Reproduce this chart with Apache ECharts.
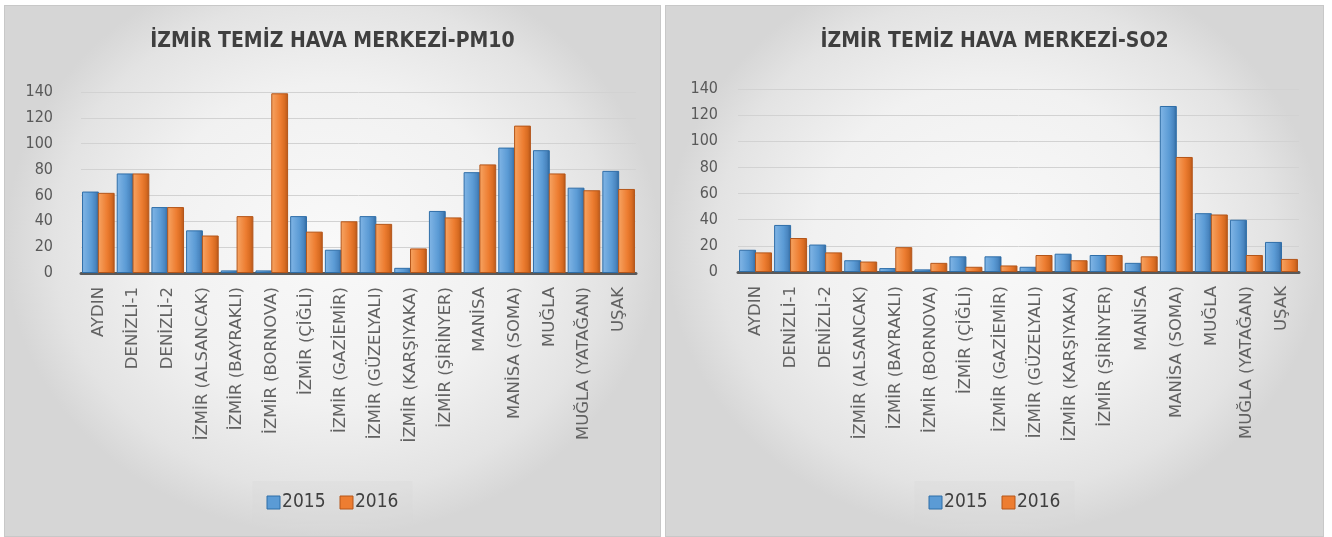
<!DOCTYPE html>
<html><head><meta charset="utf-8">
<script src="https://cdn.jsdelivr.net/npm/echarts@6/dist/echarts.min.js"></script>
<style>
html,body{margin:0;padding:0;background:#fff;width:1332px;height:537px;overflow:hidden;}
.panel{position:absolute;top:5px;height:532px;box-sizing:border-box;border:1px solid #c8c8c8;
background:radial-gradient(ellipse farthest-side at 50% 45%, #f9f9f9 0%, #f1f1f1 55%, #e3e3e3 85%, #d6d6d6 100%);}
#c1{left:4px;width:657px;}
#c2{left:665px;width:659px;}
</style></head><body>
<div id="c1" class="panel"></div><div id="c2" class="panel"></div>
<script>
const categories = ['AYDIN','DENİZLİ-1','DENİZLİ-2','İZMİR (ALSANCAK)','İZMİR (BAYRAKLI)','İZMİR (BORNOVA)','İZMİR (ÇİĞLİ)','İZMİR (GAZİEMİR)','İZMİR (GÜZELYALI)','İZMİR (KARŞIYAKA)','İZMİR (ŞİRİNYER)','MANİSA','MANİSA (SOMA)','MUĞLA','MUĞLA (YATAĞAN)','UŞAK'];
const seriesNames = ['2015','2016'];
const pm10_2015 = [63, 77, 51, 33, 2, 2, 44, 18, 44, 4, 48, 78, 97, 95, 66, 79];
const pm10_2016 = [62, 77, 51, 29, 44, 139, 32, 40, 38, 19, 43, 84, 114, 77, 64, 65];
const so2_2015 = [17, 36, 21, 9, 3, 2, 12, 12, 4, 14, 13, 7, 127, 45, 40, 23];
const so2_2016 = [15, 26, 15, 8, 19, 7, 4, 5, 13, 9, 13, 12, 88, 44, 13, 10];
const yMin = 0, yMax = 140, yStep = 20;
const titles = ['İZMİR TEMİZ HAVA MERKEZİ-PM10', 'İZMİR TEMİZ HAVA MERKEZİ-SO2'];

const NARROW = '"DejaVu Sans Condensed","Liberation Sans Narrow",sans-serif';
const blueFill = new echarts.graphic.LinearGradient(0,0,1,0,[
  {offset:0,color:'#82b6e6'},{offset:0.55,color:'#5b9bd5'},{offset:0.8,color:'#4a86c0'},{offset:1,color:'#2f689e'}]);
const orangeFill = new echarts.graphic.LinearGradient(0,0,1,0,[
  {offset:0,color:'#f7a564'},{offset:0.55,color:'#ed7d31'},{offset:0.8,color:'#d96c22'},{offset:1,color:'#b4561a'}]);

function build(title, d15, d16, grid, yLabelMargin) {
  return {
    animation: false,
    title: {text: title, left: 'center', top: 20,
      textStyle: {fontFamily: NARROW, fontWeight: 'bold', fontSize: 21, color: '#3f3f3f'}},
    legend: {bottom: 12, left: 'center', icon: 'rect', itemWidth: 13, itemHeight: 13, itemGap: 14,
      backgroundColor: 'rgba(214,214,214,0.3)', padding: [12, 14],
      textStyle: {fontFamily: NARROW, fontSize: 19, color: '#404040', padding: [0,0,0,-3]},
      data: [
        {name: seriesNames[0], itemStyle: {color: '#5b9bd5', borderColor: '#2f6ea8', borderWidth: 1}},
        {name: seriesNames[1], itemStyle: {color: '#ed7d31', borderColor: '#b4561a', borderWidth: 1}}
      ]},
    grid: grid,
    xAxis: {type: 'category', data: categories,
      axisLine: {lineStyle: {color: '#595959', width: 3}},
      axisTick: {show: false},
      axisLabel: {rotate: 90, interval: 0, margin: 14, fontFamily: '"DejaVu Sans",sans-serif', fontSize: 16.5, color: '#626262'}},
    yAxis: {type: 'value', min: yMin, max: yMax, interval: yStep,
      axisLine: {show: false}, axisTick: {show: false},
      splitLine: {lineStyle: {color: '#d2d2d2', width: 1}},
      axisLabel: {margin: yLabelMargin, fontFamily: NARROW, fontSize: 16, color: '#595959'}},
    series: [
      {name: seriesNames[0], type: 'bar', data: d15, barCategoryGap: '6%', barGap: '-6%',
        itemStyle: {color: blueFill, borderColor: '#2f6ea8', borderWidth: 1}},
      {name: seriesNames[1], type: 'bar', data: d16,
        itemStyle: {color: orangeFill, borderColor: '#b4561a', borderWidth: 1}}
    ]
  };
}

const ch1 = echarts.init(document.getElementById('c1'), null, {renderer: 'canvas'});
ch1.setOption(build(titles[0], pm10_2015, pm10_2016, {left: 76, right: 24, top: 86, bottom: 263}, 28));
const ch2 = echarts.init(document.getElementById('c2'), null, {renderer: 'canvas'});
ch2.setOption(build(titles[1], so2_2015, so2_2016, {left: 72, right: 24, top: 83, bottom: 264}, 20));
</script>
</body></html>
